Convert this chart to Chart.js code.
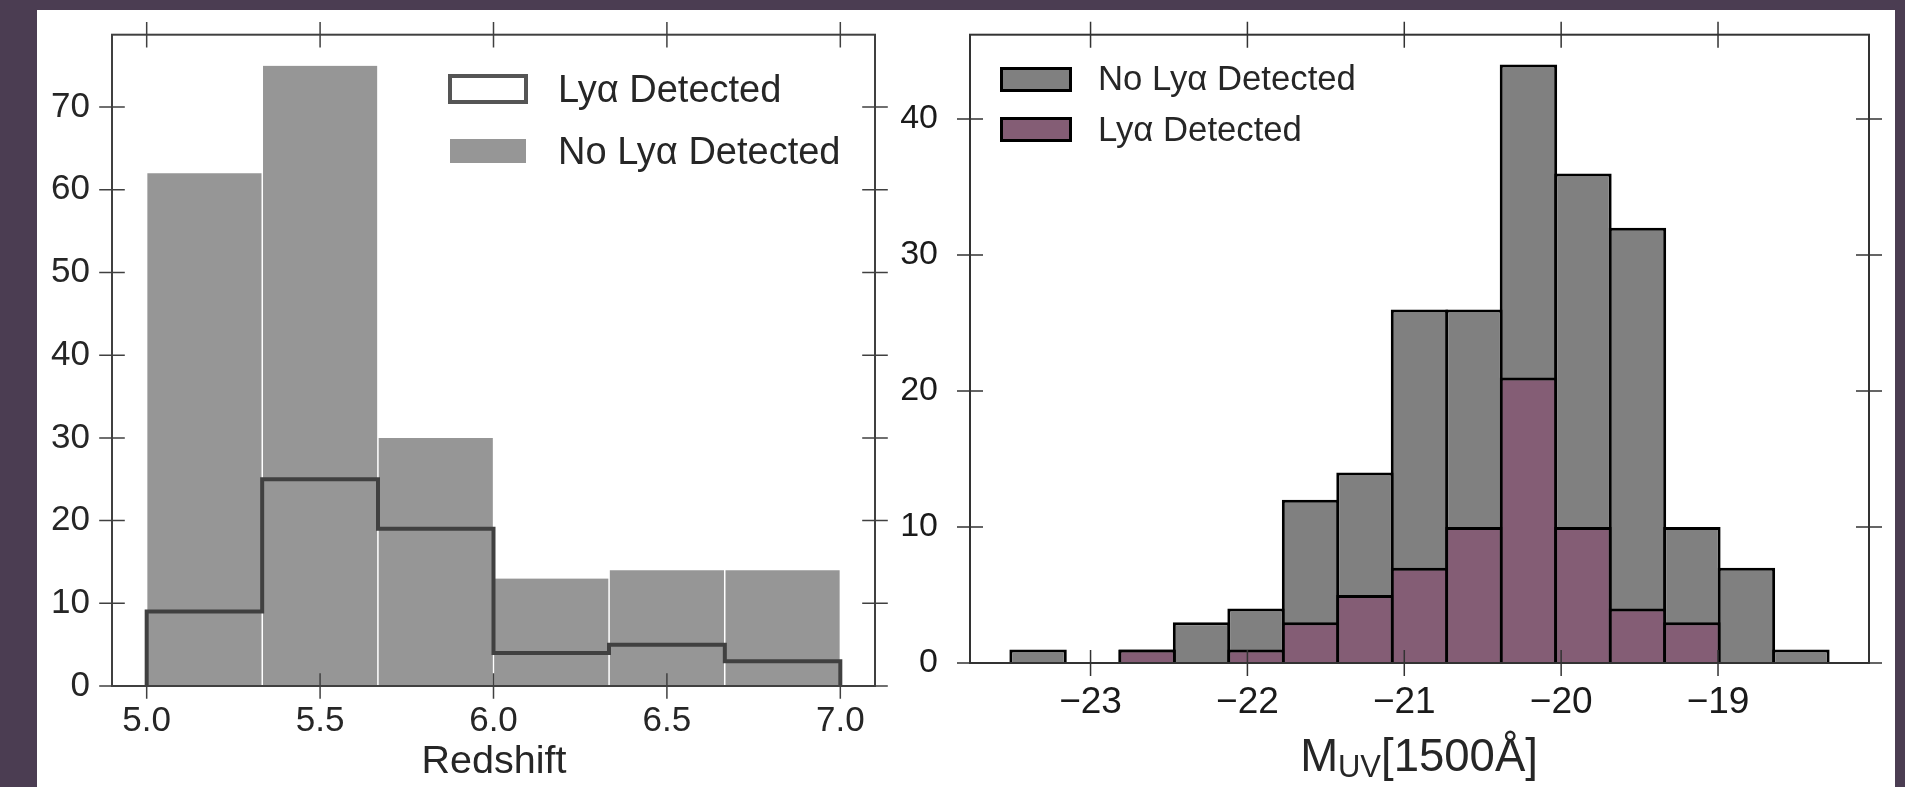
<!DOCTYPE html>
<html>
<head>
<meta charset="utf-8">
<script src="https://cdn.jsdelivr.net/npm/chart.js@4.4.0/dist/chart.umd.min.js"></script>
<style>
  html, body { margin: 0; padding: 0; }
  body { width: 1905px; height: 787px; background: #4b3d52; position: relative; overflow: hidden;
         font-family: "Liberation Sans", Arial, sans-serif; }
  #panel { position: absolute; left: 37px; top: 10px; width: 1858px; height: 777px; background: #fff; }
  canvas { position: absolute; }
  #zChart { left: 37px; top: 10px; }
  #muvChart { left: 897px; top: 10px; }
  .txt { position: absolute; white-space: nowrap; line-height: 1; color: #262626; }
  .box { position: absolute; box-sizing: border-box; }
</style>
</head>
<body>
<div id="panel"></div>
<canvas id="zChart" width="860" height="777"></canvas>
<canvas id="muvChart" width="998" height="777"></canvas>

<!-- legend, left -->
<div class="box" style="left:448px;top:74px;width:80px;height:30px;border:4px solid #555;background:#fff;"></div>
<div class="txt" style="left:558px;top:70px;font-size:38px;">Lyα Detected</div>
<div class="box" style="left:450px;top:139px;width:76px;height:24px;background:#969696;"></div>
<div class="txt" style="left:558px;top:132px;font-size:38px;">No Lyα Detected</div>

<!-- legend, right -->
<div class="box" style="left:1000px;top:67px;width:72px;height:25px;border:3.5px solid #000;background:#808080;"></div>
<div class="txt" style="left:1098px;top:61px;font-size:34.7px;">No Lyα Detected</div>
<div class="box" style="left:1000px;top:117px;width:72px;height:25px;border:3.5px solid #000;background:#845d75;"></div>
<div class="txt" style="left:1098px;top:112px;font-size:34.7px;">Lyα Detected</div>

<!-- axis titles -->
<div class="txt" style="left:494px;top:740px;font-size:39.5px;transform:translateX(-50%);">Redshift</div>
<div class="txt" style="left:1419px;top:732.7px;font-size:45.5px;transform:translateX(-50%);">M<span style="font-size:0.68em;position:relative;top:6px;">UV</span>[1500Å]</div>

<script>
// left panel: redshift histogram
const zEdges = [5.0, 5.333, 5.667, 6.0, 6.333, 6.667, 7.0];
const zNoLya = [62, 75, 30, 13, 14, 14];
const zLya = [9, 25, 19, 4, 5, 3];
const zTicks = [5.0, 5.5, 6.0, 6.5, 7.0];
const zCountTicks = [0, 10, 20, 30, 40, 50, 60, 70];

// right panel: M_UV histogram
const muvEdges = [-23.508, -23.161, -22.813, -22.466, -22.119, -21.771, -21.424, -21.077,
                  -20.729, -20.382, -20.035, -19.687, -19.340, -18.993, -18.645, -18.298];
const muvNoLya = [1, 0, 1, 3, 4, 12, 14, 26, 26, 44, 36, 32, 10, 7, 1];
const muvLya = [0, 0, 1, 0, 1, 3, 5, 7, 10, 21, 10, 4, 3, 0, 0];
const muvTicks = [-23, -22, -21, -20, -19];
const muvCountTicks = [0, 10, 20, 30, 40];

const mids = (edges) => edges.slice(0, -1).map((e, i) => (e + edges[i + 1]) / 2);

/* marcos y ticks "inout" en los cuatro lados */
const axisFrame = {
  id: 'axisFrame',
  afterDatasetsDraw(chart, args, opts) {
    const { ctx, chartArea: a } = chart;
    const x = chart.scales.x, y = chart.scales.y;
    const L = opts.tickLen;
    ctx.save();
    ctx.strokeStyle = opts.color;
    ctx.lineWidth = opts.tickWidth;
    ctx.beginPath();
    x.ticks.forEach((t, i) => {
      const px = x.getPixelForTick(i);
      ctx.moveTo(px, a.top - L); ctx.lineTo(px, a.top + L);
      ctx.moveTo(px, a.bottom - L); ctx.lineTo(px, a.bottom + L);
    });
    y.ticks.forEach((t, i) => {
      const py = y.getPixelForTick(i);
      ctx.moveTo(a.left - L, py); ctx.lineTo(a.left + L, py);
      ctx.moveTo(a.right - L, py); ctx.lineTo(a.right + L, py);
    });
    ctx.stroke();
    ctx.lineWidth = opts.spineWidth;
    ctx.strokeRect(a.left, a.top, a.right - a.left, a.bottom - a.top);
    ctx.restore();
  }
};

const fontFam = '"Liberation Sans", Arial, sans-serif';

// fixed box sizes so the plot area lands where the reference has it
const fixX = (h) => (s) => { s.height = h; s.paddingLeft = 0; s.paddingRight = 0; };
const fixY = (w) => (s) => { s.width = w; s.paddingTop = 0; s.paddingBottom = 0; };

const zStep = [{ x: zEdges[0], y: 0 }]
  .concat(zLya.map((v, i) => ({ x: zEdges[i], y: v })))
  .concat([{ x: zEdges[zEdges.length - 1], y: 0 }]);

new Chart(document.getElementById('zChart'), {
  type: 'bar',
  data: {
    datasets: [
      {
        type: 'line',
        label: 'Lyα Detected',
        data: zStep,
        stepped: 'before',
        borderColor: '#404040',
        borderWidth: 4,
        borderJoinStyle: 'miter',
        pointRadius: 0,
        fill: false,
      },
      {
        type: 'bar',
        label: 'No Lyα Detected',
        data: mids(zEdges).map((m, i) => ({ x: m, y: zNoLya[i] })),
        backgroundColor: '#969696',
        borderColor: '#ffffff',
        borderWidth: { left: 1, right: 1, top: 0, bottom: 0 },
        barPercentage: 1,
        categoryPercentage: 1,
        grouped: false,
      },
    ],
  },
  options: {
    responsive: false,
    animation: false,
    events: [],
    layout: { padding: { top: 24.7, right: 22, bottom: 0, left: 0 } },
    plugins: {
      legend: { display: false },
      tooltip: { enabled: false },
      axisFrame: { color: '#404040', tickLen: 12.8, tickWidth: 1.5, spineWidth: 2 },
    },
    scales: {
      x: {
        type: 'linear',
        offset: false,
        min: 4.9,
        max: 7.1,
        grid: { display: false, drawTicks: false },
        border: { display: false },
        afterBuildTicks: (s) => { s.ticks = zTicks.map((v) => ({ value: v })); },
        afterFit: fixX(101),
        ticks: {
          autoSkip: false, maxRotation: 0, padding: 14.5, color: '#262626',
          font: { family: fontFam, size: 35 },
          callback: (v) => v.toFixed(1),
        },
      },
      y: {
        min: 0,
        max: 78.75,
        grid: { display: false, drawTicks: false },
        border: { display: false },
        afterBuildTicks: (s) => { s.ticks = zCountTicks.map((v) => ({ value: v })); },
        afterFit: fixY(75),
        ticks: {
          autoSkip: false, padding: 22, color: '#262626',
          font: { family: fontFam, size: 35 },
          callback: (v) => String(v),
        },
      },
    },
  },
  plugins: [axisFrame],
});

new Chart(document.getElementById('muvChart'), {
  type: 'bar',
  data: {
    datasets: [
      {
        label: 'Lyα Detected',
        data: mids(muvEdges).map((m, i) => ({ x: m, y: muvLya[i] })),
        backgroundColor: '#845d75',
      },
      {
        label: 'No Lyα Detected',
        data: mids(muvEdges).map((m, i) => ({ x: m, y: muvNoLya[i] })),
        backgroundColor: '#808080',
      },
    ],
  },
  options: {
    responsive: false,
    animation: false,
    events: [],
    layout: { padding: { top: 24.7, right: 26, bottom: 0, left: 0 } },
    datasets: {
      bar: {
        borderColor: '#000000',
        borderWidth: 3,
        barPercentage: 1.055,
        categoryPercentage: 1,
        grouped: false,
      },
    },
    plugins: {
      legend: { display: false },
      tooltip: { enabled: false },
      axisFrame: { color: '#333333', tickLen: 13, tickWidth: 1.5, spineWidth: 2 },
    },
    scales: {
      x: {
        type: 'linear',
        offset: false,
        min: -23.7685,
        max: -18.0375,
        grid: { display: false, drawTicks: false },
        border: { display: false },
        afterBuildTicks: (s) => { s.ticks = muvTicks.map((v) => ({ value: v })); },
        afterFit: fixX(124),
        ticks: {
          autoSkip: false, maxRotation: 0, padding: 17.5, color: '#1a1a1a',
          font: { family: fontFam, size: 37 },
          callback: (v) => String(v).replace('-', '\u2212'),
        },
      },
      y: {
        min: 0,
        max: 46.2,
        grid: { display: false, drawTicks: false },
        border: { display: false },
        afterBuildTicks: (s) => { s.ticks = muvCountTicks.map((v) => ({ value: v })); },
        afterFit: fixY(73),
        ticks: {
          autoSkip: false, padding: 32, color: '#1a1a1a',
          font: { family: fontFam, size: 34 },
          callback: (v) => String(v),
        },
      },
    },
  },
  plugins: [axisFrame],
});
</script>
</body>
</html>
